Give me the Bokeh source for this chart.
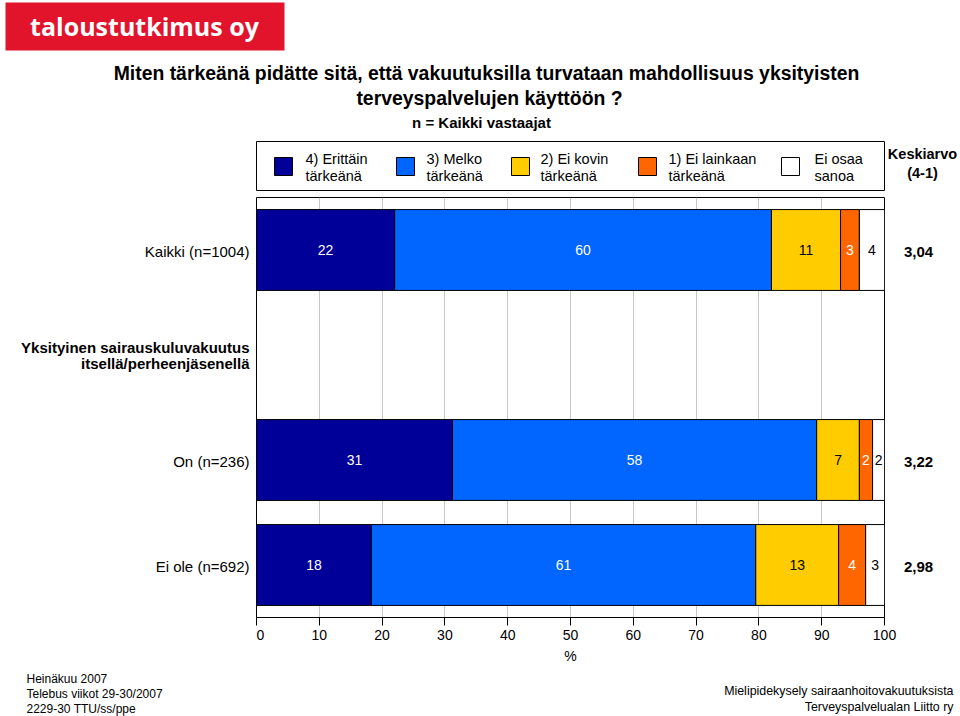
from bokeh.plotting import figure
from bokeh.models import Range1d, FixedTicker, ColumnDataSource
from bokeh.layouts import column, row
from bokeh.core.properties import value
from bokeh.embed import file_html
from bokeh.resources import INLINE

# ---------------- data ----------------
categories = ["Kaikki (n=1004)", "On (n=236)", "Ei ole (n=692)"]
category_rows = [0.5, 2.5, 3.5]
group_header = ["Yksityinen sairauskuluvakuutus", "itsellä/perheenjäsenellä"]
group_row = 1.5
series_names = [["4) Erittäin", "tärkeänä"], ["3) Melko", "tärkeänä"], ["2) Ei kovin", "tärkeänä"],
                ["1) Ei lainkaan", "tärkeänä"], ["Ei osaa", "sanoa"]]
series_colors = ["#000099", "#0066FF", "#FFCC00", "#FF6600", "#FFFFFF"]
label_colors = ["white", "white", "black", "white", "black"]
erittain = [22.0, 31.2, 18.3]
melko = [60.0, 58.0, 61.2]
ei_kovin = [11.0, 6.8, 13.2]
ei_lainkaan = [3.0, 2.1, 4.3]
eos = [4.0, 1.9, 3.0]
means = ["3,04", "3,22", "2,98"]
x_ticks = [0, 10, 20, 30, 40, 50, 60, 70, 80, 90, 100]
title_lines = ["Miten tärkeänä pidätte sitä, että vakuutuksilla turvataan mahdollisuus yksityisten",
               "terveyspalvelujen käyttöön ?"]
subtitle = "n = Kaikki vastaajat"
footer_left = ["Heinäkuu 2007", "Telebus viikot 29-30/2007", "2229-30 TTU/ss/ppe"]
footer_right = ["Mielipidekysely sairaanhoitovakuutuksista", "Terveyspalvelualan Liitto ry"]

series = [erittain, melko, ei_kovin, ei_lainkaan, eos]

FONT = "Liberation Sans"
# page geometry (pixels)
FL, FR, FT, FB = 256, 884, 197, 617
AXIS_H = 53           # space below the frame for the x axis
RIGHT_PAD = 14        # room for the last tick label
FOOT_TOP = FB + AXIS_H
PAGE_W, PAGE_H = 960, 716


def pix_fig(x0, x1, y0, y1, bottom=0):
    """A helper figure whose frame has pixel-like coordinates (y downward)."""
    f = figure(width=x1 - x0, height=y1 - y0 + bottom, output_backend="svg", toolbar_location=None,
               x_range=Range1d(x0, x1), y_range=Range1d(y1, y0),
               min_border=0, min_border_left=0, min_border_right=0,
               min_border_top=0, min_border_bottom=bottom)
    f.axis.visible = False
    f.grid.visible = False
    f.outline_line_color = None
    f.background_fill_color = "white"
    f.border_fill_color = "white"
    return f


def txt(f, text, x, y, size, align="left", bold=False, color="black", font=FONT):
    f.text(x=[x], y=[y], text=[text], text_align=align, text_baseline="middle",
           text_font=value(font), text_font_size=value(f"{size}px"),
           text_font_style="bold" if bold else "normal", text_color=color)


# ---------------- top: logo, title, legend ----------------
top = pix_fig(0, PAGE_W, 0, FT)
top.quad(left=[5], right=[284], top=[2], bottom=[50], fill_color="#e1142c", line_color=None)
txt(top, "taloustutkimus oy", 144, 25, 25, align="center", bold=True, color="white", font="Open Sans")
txt(top, title_lines[0], 486, 72, 19.4, align="center", bold=True)
txt(top, title_lines[1], 489, 97, 19.4, align="center", bold=True)
txt(top, subtitle, 481, 122, 15, align="center", bold=True)

top.quad(left=[256], right=[884], top=[141], bottom=[190], fill_color=None, line_color="black", line_width=1)
sq_x = [274, 396, 511, 638, 781]
tx_x = [305, 426, 540, 668, 814]
for name, col, sx, tx in zip(series_names, series_colors, sq_x, tx_x):
    top.quad(left=[sx], right=[sx + 18], top=[157], bottom=[175], fill_color=col,
             line_color="black", line_width=1)
    txt(top, name[0], tx, 158, 14.5)
    txt(top, name[1], tx, 175, 14.5)
txt(top, "Keskiarvo", 922, 153, 14.5, align="center", bold=True)
txt(top, "(4-1)", 922, 172, 14.5, align="center", bold=True)

# ---------------- main chart ----------------
p = figure(width=FR - FL + RIGHT_PAD, height=FOOT_TOP - FT, output_backend="svg", toolbar_location=None,
           x_range=Range1d(0, 100), y_range=Range1d(4, 0),
           min_border_left=0, min_border_right=RIGHT_PAD, min_border_top=0, min_border_bottom=AXIS_H)
p.outline_line_color = "black"
p.outline_line_width = 1
p.background_fill_color = "white"
p.border_fill_color = "white"
p.yaxis.visible = False
p.ygrid.visible = False
p.xgrid.grid_line_color = "#c8c8c8"
p.xgrid.ticker = FixedTicker(ticks=x_ticks)
p.xaxis.ticker = FixedTicker(ticks=x_ticks)
p.xaxis.minor_tick_line_color = None
p.xaxis.major_tick_in = 0
p.xaxis.major_tick_out = 8
p.xaxis.axis_line_color = "black"
p.xaxis.major_tick_line_color = "black"
p.xaxis.major_label_text_font = FONT
p.xaxis.major_label_text_font_size = "14px"
p.xaxis.major_label_text_color = "black"
p.xaxis.major_label_standoff = 4
p.xaxis.axis_label = "%"
p.xaxis.axis_label_text_font = FONT
p.xaxis.axis_label_text_font_size = "14px"
p.xaxis.axis_label_text_font_style = "normal"
p.xaxis.axis_label_text_color = "black"
p.xaxis.axis_label_standoff = 5

left = [0.0] * len(categories)
for vals, col, lcol in zip(series, series_colors, label_colors):
    right = [l + v for l, v in zip(left, vals)]
    mid = [(l + r) / 2 for l, r in zip(left, right)]
    src = ColumnDataSource(dict(y=category_rows, left=left, right=right, mid=mid,
                                lab=[str(int(round(v))) for v in vals]))
    p.hbar(y="y", left="left", right="right", height=0.77, source=src,
           fill_color=col, line_color="black", line_width=1)
    p.text(x="mid", y="y", text="lab", source=src, text_align="center", text_baseline="middle",
           text_color=lcol, text_font=value(FONT), text_font_size=value("14px"))
    left = right

# ---------------- left: category labels ----------------
row_px = lambda r: FT + (FB - FT) * r / 4.0
lf = pix_fig(0, FL, FT, FB, bottom=AXIS_H)
for name, r in zip(categories, category_rows):
    txt(lf, name, 249, row_px(r) + 1, 15, align="right")
txt(lf, group_header[0], 249, row_px(group_row) - 8, 15, align="right", bold=True)
txt(lf, group_header[1], 249, row_px(group_row) + 8, 15, align="right", bold=True)

# ---------------- right: means ----------------
rf = pix_fig(FR + RIGHT_PAD, PAGE_W, FT, FB, bottom=AXIS_H)
for m, r in zip(means, category_rows):
    txt(rf, m, 918, row_px(r) + 2, 15, align="center", bold=True)

# ---------------- footer ----------------
ft = pix_fig(0, PAGE_W, FOOT_TOP, PAGE_H)
for t, y in zip(footer_left, [678, 693, 708]):
    txt(ft, t, 26, y, 12)
for t, y in zip(footer_right, [690, 706]):
    txt(ft, t, 953, y, 12.4, align="right")

layout = column(top, row(lf, p, rf, spacing=0), ft, spacing=0)
open("out.html", "w").write(file_html(layout, INLINE))
